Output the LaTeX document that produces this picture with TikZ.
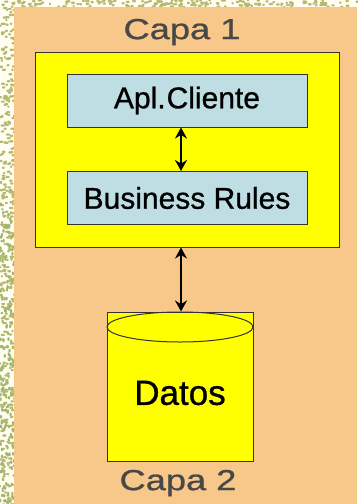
\documentclass[tikz,border=0pt]{standalone}
\usepackage{fontspec}
\setmainfont{Liberation Sans}
\newfontfamily\heavyfont[FakeBold=0.8]{Liberation Sans}
\usetikzlibrary{arrows.meta}
\definecolor{peach}{RGB}{248,200,138}
\definecolor{boxyellow}{RGB}{255,255,0}
\definecolor{tierblue}{RGB}{190,222,228}
\definecolor{labelgray}{RGB}{72,72,72}
\definecolor{speckle}{RGB}{184,184,110}
\definecolor{speckletwo}{RGB}{160,184,110}
\tikzset{
  tierbox/.style={draw=black!80, line width=1pt, fill=tierblue, minimum width=240pt, minimum height=53pt, inner sep=0pt,
    font=\heavyfont\fontsize{30}{30}\selectfont},
  layerlabel/.style={text=labelgray, font=\heavyfont\fontsize{29}{29}\selectfont, xscale=1.25, inner sep=0pt},
  link/.style={line width=1.8pt, {Stealth[length=11pt,width=12pt]}-{Stealth[length=11pt,width=12pt]}}
}
\begin{document}
\begin{tikzpicture}[x=1pt,y=-1pt]
\useasboundingbox (0,0) rectangle (357,504);
% speckled border
\fill[white!94!yellow] (0,0) rectangle (357,504);
\pgfmathsetseed{7}
\foreach \i in {1,...,380}{
  \pgfmathsetmacro{\px}{rnd*14-1}
  \pgfmathsetmacro{\py}{rnd*504}
  \pgfmathsetmacro{\pw}{2+rnd*2.5}
  \fill[speckle, rounded corners=0.8pt] (\px,\py) rectangle ++(\pw,2.2);
}
\foreach \i in {1,...,160}{
  \pgfmathsetmacro{\px}{rnd*14-1}
  \pgfmathsetmacro{\py}{200+rnd*304}
  \fill[speckletwo, rounded corners=0.8pt] (\px,\py) rectangle ++(2.2,3.5);
}
\foreach \i in {1,...,170}{
  \pgfmathsetmacro{\px}{14+rnd*343}
  \pgfmathsetmacro{\py}{rnd*7-1}
  \pgfmathsetmacro{\pw}{2+rnd*2.5}
  \fill[speckle, rounded corners=0.8pt] (\px,\py) rectangle ++(\pw,2.2);
}
% main background
\fill[peach] (14,7) rectangle (357,504);

% layer 1
\node[layerlabel] (capa1) at (182,32) {Capa 1};
\node[draw=black!80, line width=1pt, fill=boxyellow, minimum width=304pt, minimum height=195pt, inner sep=0pt] (layer1) at (187,149.5) {};
\node[tierbox] (apl) at (187,100.5) {Apl.\kern1pt Cliente};
\node[tierbox] (rules) at (187,198) {Business Rules};
\draw[link] (apl.south -| 181,0) -- (rules.north -| 181,0);

% layer 2: database cylinder
\node[draw=black!80, line width=1pt, fill=boxyellow, minimum width=146pt, minimum height=149pt, inner sep=0pt] (db) at (180,386.5) {};
\draw[black!80, line width=1pt] (180,327) ellipse [x radius=73, y radius=15];
\node[font=\heavyfont\fontsize{35}{35}\selectfont, inner sep=0pt] (datos) at (180,393) {Datos};
\node[layerlabel] (capa2) at (178,483) {Capa 2};
\draw[link] (layer1.south -| 181,0) -- (db.north -| 181,0);
\end{tikzpicture}
\end{document}
